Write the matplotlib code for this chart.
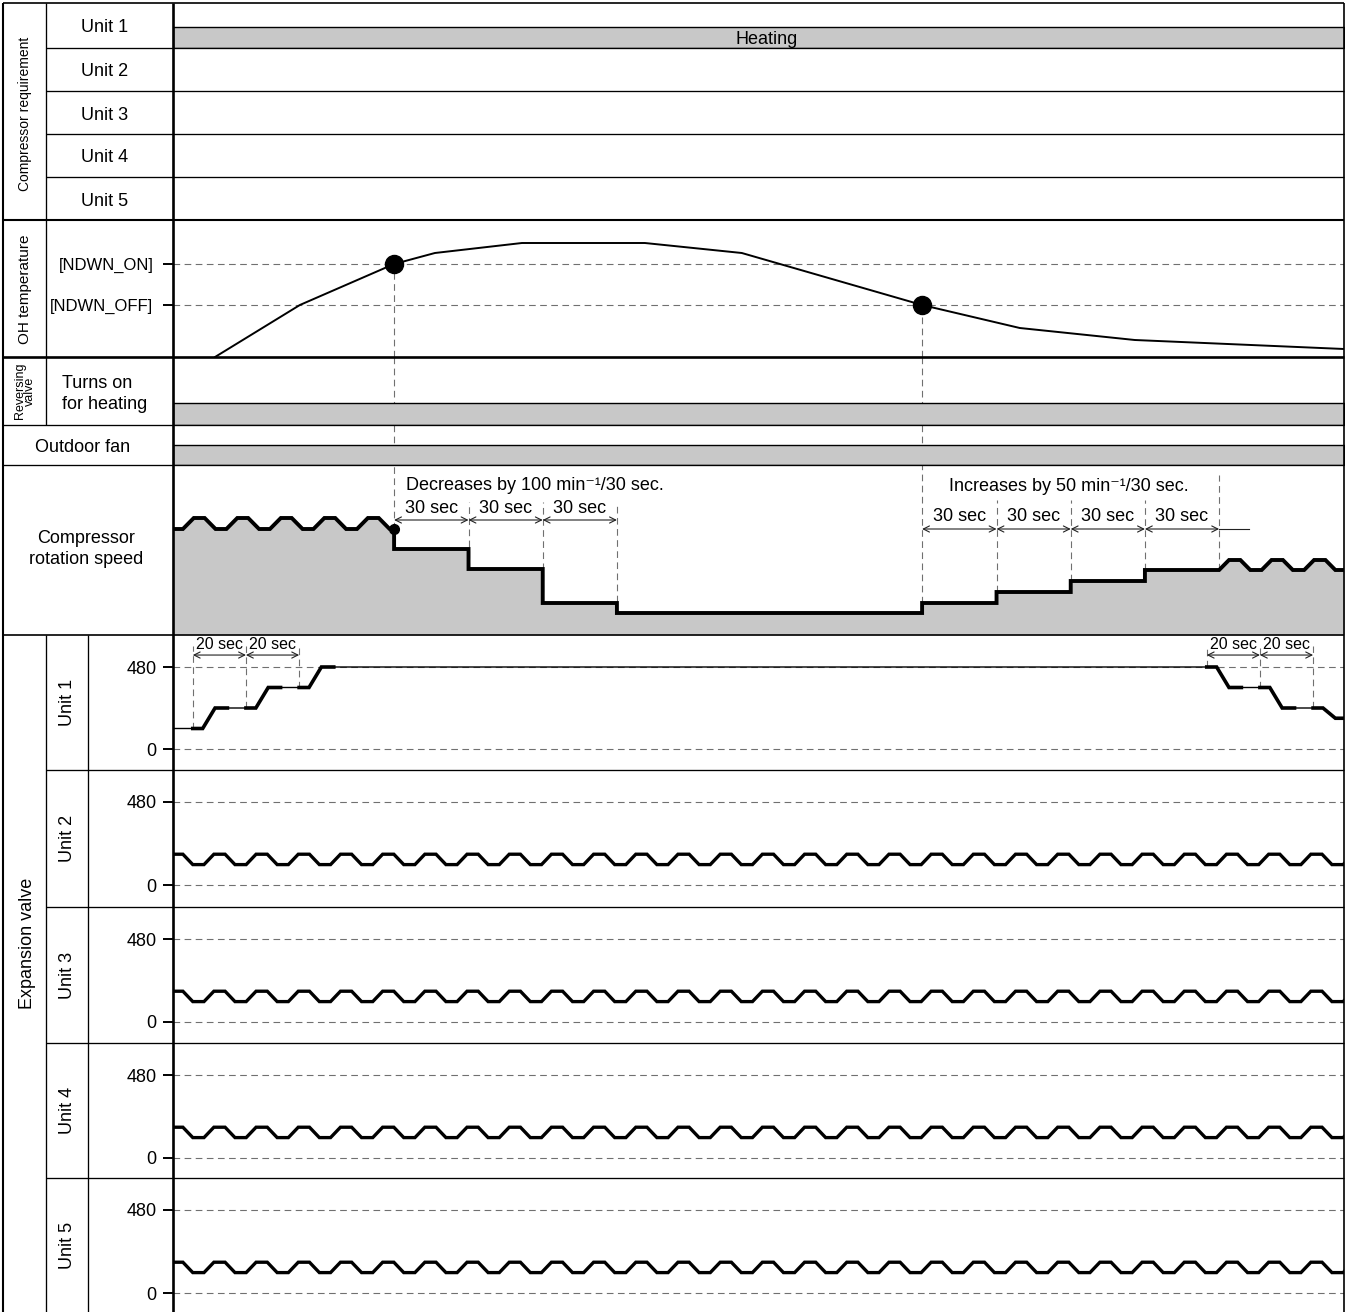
import matplotlib
matplotlib.use('Agg')
import matplotlib.pyplot as plt

plt.rcParams['font.family'] = ['Liberation Sans', 'DejaVu Sans']

W, H = 1346, 1312
X0, X1 = 173, 1344          # plot column in pixels
GRAY = '#c8c8c8'
DASH = '#707070'

# ---------------- data (time axis in seconds) ----------------
T_END = 473.5
T_ON = 89.4      # OH temperature reaches NDWN_ON
T_OFF = 302.9    # OH temperature falls to NDWN_OFF

req_units = ['Unit 1', 'Unit 2', 'Unit 3', 'Unit 4', 'Unit 5']
req_intervals = [[(0, T_END)], [], [], [], []]
rev_valve_on = [(0, T_END)]
fan_on = [(0, T_END)]

# OH temperature (relative scale)
oh_t = [17, 51.3, 89.4, 105.9, 141.1, 190.8, 230.0, 302.9, 342.4, 388.9, 473.5]
oh_v = [0, 52, 93, 104, 114, 114, 104, 52, 29, 17, 8]
NDWN_ON = 93
NDWN_OFF = 52

# compressor rotation speed (relative scale)
comp_left_wave = (106, 117)      # low, high
comp_step_times = [89.4, 119.5, 149.5, 179.5, 302.9, 333, 363, 393, 423]
comp_step_levels = [86, 66, 32, 22, 32, 43, 54, 65]
comp_right_wave = (65, 75)       # low, high

# expansion valve opening (pulses)
exv_units = ['Unit 1', 'Unit 2', 'Unit 3', 'Unit 4', 'Unit 5']
exv1_up_times = [8, 29.5, 51]
exv1_up_levels = [120, 240, 360, 480]
exv1_down_times = [418, 439.5, 461]
exv1_down_levels = [480, 360, 240, 180]
exv_wave = (178, 118)            # high, low (units 2-5)


def trapezoid(t0, t1, first, second, lead, half, ramp):
    t, v = [t0], [first]
    cur, nxt = first, second
    s = t0 + lead
    while s + ramp <= t1:
        t += [s, s + ramp]
        v += [cur, nxt]
        cur, nxt = nxt, cur
        s += half
    t.append(t1)
    v.append(cur)
    return t, v


fig = plt.figure(figsize=(W / 100, H / 100), dpi=100)


def panel(y0, y1, ylim, x0=X0, x1=X1):
    ax = fig.add_axes([x0 / W, 1 - y1 / H, (x1 - x0) / W, (y1 - y0) / H])
    ax.patch.set_visible(False)
    for s in ax.spines.values():
        s.set_visible(False)
    ax.set_xlim(0, T_END)
    ax.set_ylim(*ylim)
    ax.set_xticks([])
    ax.set_yticks([])
    return ax


def value_limits(top, bottom, y_hi, y_lo, v_hi, v_lo):
    k = (v_hi - v_lo) / (y_lo - y_hi)
    return v_lo - (bottom - y_lo) * k, v_hi + (y_hi - top) * k


def dashed_v(ax, t, lo, hi):
    ax.vlines(t, lo, hi, colors=DASH, lw=0.8, linestyles=(0, (6, 4)), zorder=1)


def arrow(ax, a, b, y):
    ax.annotate('', xy=(b, y), xytext=(a, y),
                arrowprops=dict(arrowstyle='<->', lw=0.8, color='#222',
                                shrinkA=0, shrinkB=0, mutation_scale=11))


# ---------------- compressor requirement ----------------
req_rows = [(3, 48), (48, 91), (91, 134), (134, 177), (177, 220)]
for (y0, y1), ivs in zip(req_rows, req_intervals):
    ax = panel(y0, y1, (y1 - y0, 0))
    if ivs:
        ax.broken_barh([(a, b - a) for a, b in ivs], (y1 - y0 - 21, 21),
                       facecolor=GRAY, edgecolor='k', lw=1)
        ax.text(240, y1 - y0 - 8.5, 'Heating', ha='center', va='center', fontsize=13)

# ---------------- OH temperature ----------------
ax_oh = panel(220, 357, (0, 137))
ax_oh.plot(oh_t, oh_v, color='k', lw=1.4, zorder=3)
for lv in (NDWN_ON, NDWN_OFF):
    ax_oh.axhline(lv, color=DASH, lw=0.8, ls=(0, (6, 4)), zorder=1)
ax_oh.plot([T_ON, T_OFF], [NDWN_ON, NDWN_OFF], 'o', color='k', ms=13, zorder=4)
dashed_v(ax_oh, T_ON, 0, NDWN_ON)
dashed_v(ax_oh, T_OFF, 0, NDWN_OFF)
ax_oh.set_yticks([NDWN_ON, NDWN_OFF], ['[NDWN_ON]', '[NDWN_OFF]'])
ax_oh.tick_params(axis='y', length=7.2, width=1.4, pad=7, labelsize=12)

# ---------------- reversing valve / outdoor fan ----------------
for (y0, y1, h), ivs in zip([(357, 425, 22), (425, 465, 20)], [rev_valve_on, fan_on]):
    ax = panel(y0, y1, (y1 - y0, 0))
    dashed_v(ax, T_ON, 0, y1 - y0)
    dashed_v(ax, T_OFF, 0, y1 - y0)
    ax.broken_barh([(a, b - a) for a, b in ivs], (y1 - y0 - h, h),
                   facecolor=GRAY, edgecolor='k', lw=1, zorder=2)

# ---------------- compressor rotation speed ----------------
ax_c = panel(465, 635, (0, 170))
lt, lv = trapezoid(0, T_ON, comp_left_wave[0], comp_left_wave[1], 4, 8.8, 4.4)
ct, cv = list(lt), list(lv)
for i, lvl in enumerate(comp_step_levels):
    ct += [comp_step_times[i], comp_step_times[i + 1]]
    cv += [lvl, lvl]
rt, rv = trapezoid(comp_step_times[-1], T_END + 10, comp_right_wave[0],
                   comp_right_wave[1], 0, 8.6, 4)
ct += rt
cv += rv
ax_c.fill_between(ct, 0, cv, color=GRAY, lw=0, zorder=0)
ax_c.plot(ct, cv, color='k', lw=2.8, solid_joinstyle='miter', zorder=3)
ax_c.plot([T_ON], [comp_left_wave[0]], 'o', color='k', ms=7, zorder=4)

dashed_v(ax_c, T_ON, comp_left_wave[0], 170)
for t, lvl in zip(comp_step_times[1:4], comp_step_levels[1:4]):
    dashed_v(ax_c, t, lvl, 133)
dashed_v(ax_c, T_OFF, comp_step_levels[4], 170)
for t, lvl in zip(comp_step_times[5:8], comp_step_levels[4:7]):
    dashed_v(ax_c, t, lvl, 135)
dashed_v(ax_c, comp_step_times[8], comp_step_levels[7], 160)

dec = comp_step_times[:4]
for a, b in zip(dec[:-1], dec[1:]):
    arrow(ax_c, a, b, 115)
    ax_c.text((a + b) / 2, 127, '30 sec', ha='center', va='center', fontsize=13)
ax_c.text(94.2, 150, 'Decreases by 100 min\u207b\u00b9/30 sec.', ha='left', va='center', fontsize=13)

inc = comp_step_times[4:]
for a, b in zip(inc[:-1], inc[1:]):
    arrow(ax_c, a, b, 106)
    ax_c.text((a + b) / 2, 119, '30 sec', ha='center', va='center', fontsize=13)
ax_c.plot([inc[-1], 435], [106, 106], color='#222', lw=0.8)
ax_c.text(362.3, 149, 'Increases by 50 min\u207b\u00b9/30 sec.', ha='center', va='center', fontsize=13)

# ---------------- expansion valve ----------------
exv_rows = [(635, 770, 667, 749), (770, 907, 802, 885), (907, 1043, 939, 1022),
            (1043, 1178, 1075, 1158), (1178, 1312, 1210, 1293)]
for k, (top, bot, y480, y0) in enumerate(exv_rows):
    ax = panel(top, bot, value_limits(top, bot, y480, y0, 480, 0))
    for lvl in (0, 480):
        ax.axhline(lvl, color=DASH, lw=0.8, ls=(0, (6, 4)), zorder=1)
    ax.set_yticks([0, 480], ['0', '480'])
    ax.tick_params(axis='y', length=7.2, width=1.4, pad=4.5, labelsize=13)
    if k == 0:
        marks = exv1_up_times + exv1_down_times
        before = exv1_up_levels[:-1] + exv1_down_levels[:-1]
        after = exv1_up_levels[1:] + exv1_down_levels[1:]
        pt, pv = [0], [exv1_up_levels[0]]
        for t, a, b in zip(marks, before, after):
            pt += [t + 4, t + 9]
            pv += [a, b]
        pt.append(T_END)
        pv.append(exv1_down_levels[-1])
        ax.plot(pt, pv, color='k', lw=1.0, zorder=3)
        for t, a, b in zip(marks, before, after):
            ax.plot([t, t + 4, t + 9, t + 14], [a, a, b, b], color='k', lw=2.6,
                    solid_joinstyle='miter', zorder=3)
            dashed_v(ax, t, a, 604)
        for grp in (exv1_up_times, exv1_down_times):
            for a, b in zip(grp[:-1], grp[1:]):
                arrow(ax, a, b, 550)
                ax.text((a + b) / 2, 610, '20 sec', ha='center', va='center',
                        fontsize=11.5)
    else:
        wt, wv = trapezoid(0, T_END + 10, exv_wave[0], exv_wave[1], 4, 8.53, 4)
        ax.plot(wt, wv, color='k', lw=2.4, solid_joinstyle='miter', zorder=3)

# ---------------- table frame and labels ----------------
fr = fig.add_axes([0, 0, 1, 1], zorder=10)
fr.patch.set_visible(False)
fr.set_xlim(0, W)
fr.set_ylim(H, 0)
fr.axis('off')

hlines = [(3, 3, X1, 1.2), (48, 46, X1, 0.95), (91, 46, X1, 0.95), (134, 46, X1, 0.95),
          (177, 46, X1, 0.95), (220, 3, X1, 1.5), (357, 3, X1, 1.9), (425, 3, X1, 0.95),
          (465, 3, X1, 0.95), (635, 3, X1, 1.2), (770, 46, X1, 0.95), (907, 46, X1, 0.95),
          (1043, 46, X1, 0.95), (1178, 46, X1, 0.95)]
for y, a, b, lw in hlines:
    fr.plot([a, b], [y, y], color='k', lw=lw, solid_capstyle='butt')
vlines = [(3, 3, H, 1.5), (46, 3, 425, 0.95), (46, 635, H, 0.95), (88, 635, H, 0.95),
          (X0, 3, H, 1.9), (X1, 3, H, 1.2)]
for x, a, b, lw in vlines:
    fr.plot([x, x], [a, b], color='k', lw=lw, solid_capstyle='butt')

fs = 13
fr.text(25, 114, 'Compressor requirement', rotation=90, ha='center', va='center',
        fontsize=10)
for (y0, y1), name in zip(req_rows, req_units):
    fr.text(105, (y0 + y1) / 2 + 2.5, name, ha='center', va='center', fontsize=fs)
fr.text(25, 289, 'OH temperature', rotation=90, ha='center', va='center', fontsize=11)
fr.text(25, 391, 'Reversing\nvalve', rotation=90, ha='center', va='center',
        fontsize=9, linespacing=0.85)
fr.text(105, 394, 'Turns on\nfor heating', ha='center', va='center', fontsize=fs,
        linespacing=1.25, multialignment='left')
fr.text(83, 448, 'Outdoor fan', ha='center', va='center', fontsize=fs)
fr.text(86, 549, 'Compressor\nrotation speed', ha='center', va='center', fontsize=fs,
        linespacing=1.25)
fr.text(27, 943, 'Expansion valve', rotation=90, ha='center', va='center', fontsize=fs)
for (top, bot, _, _), name in zip(exv_rows, exv_units):
    fr.text(68, (top + bot) / 2, name, rotation=90, ha='center', va='center', fontsize=fs)

fig.savefig('out.png', dpi=100)
